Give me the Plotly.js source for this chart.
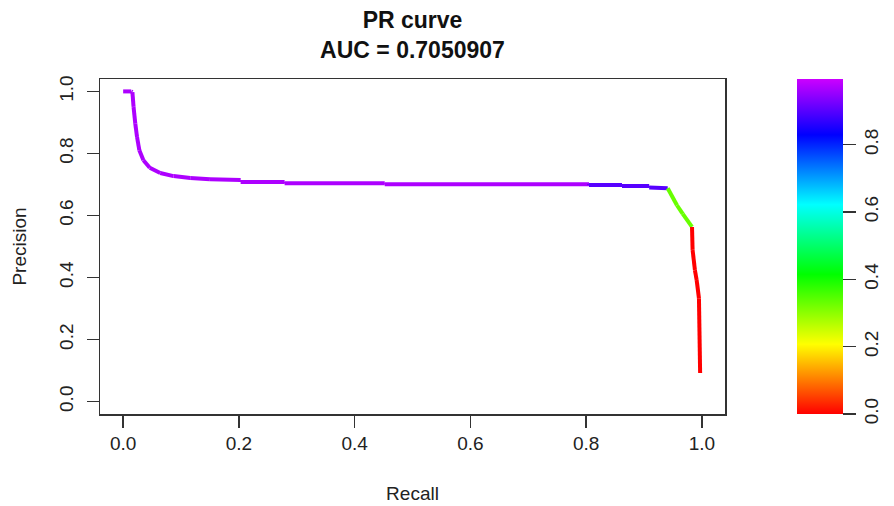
<!DOCTYPE html>
<html>
<head>
<meta charset="utf-8">
<script src="https://cdn.plot.ly/plotly-3.0.1.min.js"></script>
<style>
  html, body { margin: 0; padding: 0; background: #ffffff; }
  #chart { width: 894px; height: 506px; }
</style>
</head>
<body>
<div id="chart"></div>
<script>
// Precision-recall curve points, with the classifier score (threshold) at each point
const recall = [
  0.000, 0.014, 0.016, 0.018, 0.021, 0.024, 0.028, 0.035, 0.046, 0.064,
  0.087, 0.116, 0.150, 0.203, 0.203, 0.279, 0.279, 0.452, 0.452, 0.805,
  0.805, 0.862, 0.862, 0.909, 0.909, 0.941,
  0.957, 0.967, 0.983,
  0.984, 0.988, 0.991, 0.995, 0.997
];
const precision = [
  1.000, 1.000, 0.998, 0.950, 0.896, 0.853, 0.810, 0.778, 0.754, 0.737,
  0.727, 0.721, 0.717, 0.714, 0.708, 0.708, 0.704, 0.704, 0.701, 0.701,
  0.698, 0.698, 0.695, 0.695, 0.690, 0.688,
  0.633, 0.605, 0.563,
  0.489, 0.424, 0.392, 0.333, 0.092
];
const score = [
  0.97, 0.97, 0.97, 0.97, 0.97, 0.97, 0.97, 0.97, 0.97, 0.97,
  0.97, 0.97, 0.97, 0.97, 0.97, 0.97, 0.97, 0.97, 0.97, 0.97,
  0.90, 0.90, 0.90, 0.90, 0.90, 0.90,
  0.33, 0.33, 0.33,
  0.00, 0.00, 0.00, 0.00, 0.00
];
const aucValue = '0.7050907';
const scoreTicks = [0, 0.2, 0.4, 0.6, 0.8];
const axisTicks = [0, 0.2, 0.4, 0.6, 0.8, 1.0];

// rainbow palette: hue runs from red (0) to violet (0.8 of the wheel)
const rainbow = [
  [0.0, '#FF0000'],
  [1 / 4.8, '#FFFF00'],
  [2 / 4.8, '#00FF00'],
  [3 / 4.8, '#00FFFF'],
  [4 / 4.8, '#0000FF'],
  [1.0, '#CC00FF']
];
const cmin = 0, cmax = 0.995;

function hexToRgb(h) {
  return [parseInt(h.slice(1, 3), 16), parseInt(h.slice(3, 5), 16), parseInt(h.slice(5, 7), 16)];
}
function scoreColor(v) {
  const t = Math.min(1, Math.max(0, (v - cmin) / (cmax - cmin)));
  for (let i = 1; i < rainbow.length; i++) {
    if (t <= rainbow[i][0]) {
      const a = rainbow[i - 1], b = rainbow[i];
      const f = (t - a[0]) / (b[0] - a[0]);
      const ca = hexToRgb(a[1]), cb = hexToRgb(b[1]);
      const c = ca.map((x, k) => Math.round(x + (cb[k] - x) * f));
      return 'rgb(' + c.join(',') + ')';
    }
  }
  return rainbow[rainbow.length - 1][1];
}

const traces = [];
// one segment per consecutive pair of points, coloured by the score it reaches
for (let i = 1; i < recall.length; i++) {
  traces.push({
    type: 'scatter', mode: 'lines',
    x: [recall[i - 1], recall[i]],
    y: [precision[i - 1], precision[i]],
    line: { color: scoreColor(score[i]), width: 4 },
    hoverinfo: 'skip', showlegend: false
  });
}
// carrier trace for the colour scale legend
traces.push({
  type: 'scatter', mode: 'markers',
  x: recall, y: precision,
  marker: {
    color: score, colorscale: rainbow, cmin: cmin, cmax: cmax,
    size: 1, opacity: 0,
    showscale: true,
    colorbar: {
      x: 1.1134, xanchor: 'left', xpad: 0,
      y: 0.5, yanchor: 'middle', ypad: 0,
      len: 1, lenmode: 'fraction',
      thickness: 46, thicknessmode: 'pixels',
      outlinewidth: 0,
      tickmode: 'array', tickvals: scoreTicks,
      ticktext: scoreTicks.map(v => v.toFixed(1)),
      ticks: 'outside', ticklen: 13, tickwidth: 1.5, tickcolor: '#333333',
      tickangle: -90,
      tickfont: { family: 'Liberation Sans, Arial, sans-serif', size: 19, color: '#222222' }
    }
  },
  hoverinfo: 'skip', showlegend: false
});

const axisFont = { family: 'Liberation Sans, Arial, sans-serif', size: 19, color: '#222222' };
const layout = {
  width: 894, height: 506,
  margin: { l: 100, r: 168, t: 79, b: 92 },
  paper_bgcolor: '#ffffff', plot_bgcolor: '#ffffff',
  title: {
    text: '<b>PR curve<br>AUC = ' + aucValue + '</b>',
    font: { family: 'Liberation Sans, Arial, sans-serif', size: 23, color: '#111111' },
    x: 0.5, xref: 'paper', xanchor: 'center',
    y: 0.945, yref: 'container', yanchor: 'middle'
  },
  xaxis: {
    range: [-0.04, 1.04], zeroline: false, showgrid: false,
    showline: true, mirror: true, linecolor: '#333333', linewidth: 1.5,
    ticks: 'outside', ticklen: 12, tickwidth: 1.5, tickcolor: '#333333',
    tickmode: 'array', tickvals: axisTicks, ticktext: axisTicks.map(v => v.toFixed(1)),
    tickfont: axisFont,
    title: { text: 'Recall', font: axisFont, standoff: 33 }
  },
  yaxis: {
    range: [-0.04, 1.04], zeroline: false, showgrid: false,
    showline: true, mirror: true, linecolor: '#333333', linewidth: 1.5,
    ticks: 'outside', ticklen: 12, tickwidth: 1.5, tickcolor: '#333333',
    tickmode: 'array', tickvals: axisTicks, ticktext: axisTicks.map(v => v.toFixed(1)),
    tickangle: -90, ticklabelstandoff: 6,
    tickfont: axisFont,
    title: { text: 'Precision', font: axisFont, standoff: 24 }
  }
};

Plotly.newPlot('chart', traces, layout, { staticPlot: true, displayModeBar: false });
</script>
</body>
</html>
